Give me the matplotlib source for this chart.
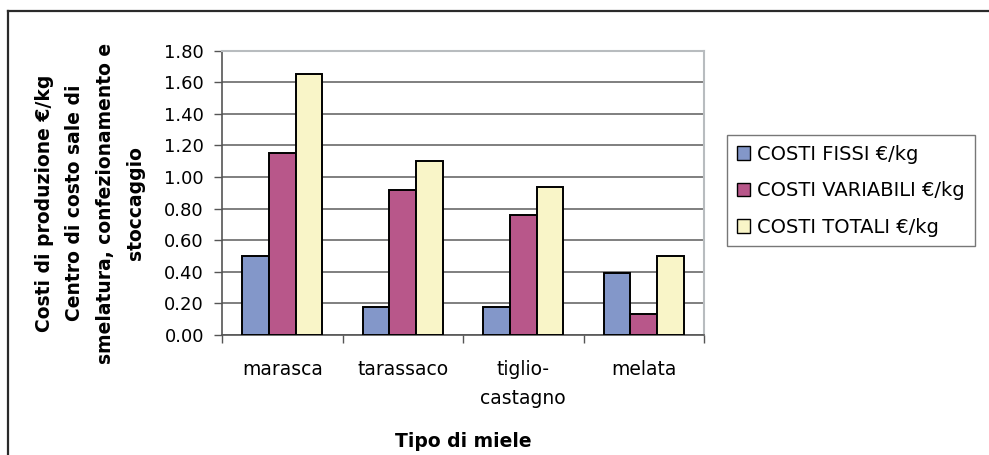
import matplotlib
matplotlib.use("Agg")
import matplotlib.pyplot as plt
import numpy as np
from matplotlib.lines import Line2D
from matplotlib.patches import Patch

plt.rcParams['font.family'] = ['DejaVu Sans']

categories = ["marasca", "tarassaco", "tiglio-\ncastagno", "melata"]
series_names = ["COSTI FISSI €/kg", "COSTI VARIABILI €/kg", "COSTI TOTALI €/kg"]
costi_fissi = [0.50, 0.18, 0.18, 0.39]
costi_variabili = [1.15, 0.92, 0.76, 0.13]
costi_totali = [1.65, 1.10, 0.94, 0.50]
yticks = [0.0, 0.2, 0.4, 0.6, 0.8, 1.0, 1.2, 1.4, 1.6, 1.8]

colors = ["#8397c9", "#b8578a", "#f9f5c8"]

W, H = 989, 455
fig = plt.figure(figsize=(W / 100, H / 100), dpi=100)
fig.patch.set_facecolor("white")

# chart area frame (top and left edges visible)
fig.add_artist(Line2D([8 / W, 8 / W], [0, 1 - 11 / H], color="#2a2a2a", lw=1.6))
fig.add_artist(Line2D([8 / W, 1], [1 - 11 / H, 1 - 11 / H], color="#2a2a2a", lw=1.6))

# plot area in pixels (from top-left)
px_l, px_r, px_t, px_b = 222, 704, 50.7, 335
ax = fig.add_axes([px_l / W, 1 - px_b / H, (px_r - px_l) / W, (px_b - px_t) / H])

x = np.arange(len(categories))
bw = 1 / 4.5
for i, (vals, c, name) in enumerate(zip([costi_fissi, costi_variabili, costi_totali], colors, series_names)):
    ax.bar(x + (i - 1) * bw, vals, width=bw, color=c, edgecolor="black", linewidth=1.4,
           label=name, zorder=3)

ax.set_xlim(-0.5, len(categories) - 0.5)
ax.set_ylim(0, 1.8)
ax.set_yticks(yticks)
ax.set_yticklabels([f"{v:.2f}" for v in yticks], fontsize=13)
ax.yaxis.grid(True, color="#6a6a6a", linewidth=1.2, zorder=0)
ax.set_axisbelow(True)

ax.set_xticks(x)
ax.set_xticklabels(categories, fontsize=13.5, linespacing=1.65)
ax.set_xticks(np.arange(len(categories) + 1) - 0.5, minor=True)
ax.tick_params(axis="x", which="major", length=0, pad=18)
ax.tick_params(axis="x", which="minor", length=6, width=1, color="#555555", direction="out")
ax.tick_params(axis="y", length=6, width=1, color="#555555", direction="out", pad=7)

for s in ["left", "bottom"]:
    ax.spines[s].set_color("#555555")
    ax.spines[s].set_linewidth(1.2)
for s in ["top", "right"]:
    ax.spines[s].set_color("#b8bcbf")
    ax.spines[s].set_linewidth(1.5)


def ax_coords(px_x, px_y):
    return ((px_x - px_l) / (px_r - px_l), (px_b - px_y) / (px_b - px_t))


ax.set_xlabel("Tipo di miele", fontsize=13.5, fontweight="bold")
ax.xaxis.set_label_coords(*ax_coords(463, 441))
ax.xaxis.label.set_verticalalignment("center")

ax.set_ylabel("Costi di produzione €/kg\nCentro di costo sale di\nsmelatura, confezionamento e\nstoccaggio",
              fontsize=13.5, fontweight="bold", linespacing=1.75)
ax.yaxis.set_label_coords(*ax_coords(90, 203))
ax.yaxis.label.set_verticalalignment("center")

handles = [Patch(facecolor=c, edgecolor="black", linewidth=1.0) for c in colors]
leg = fig.legend(handles, series_names, loc="upper left",
                 bbox_to_anchor=(727 / W, 1 - 135 / H), fontsize=14,
                 frameon=True, fancybox=False, edgecolor="#555555",
                 handlelength=0.7, handleheight=0.7, handletextpad=0.36,
                 labelspacing=0.9, borderpad=0.5, borderaxespad=0)
leg.get_frame().set_linewidth(1.0)

fig.savefig("out.png", dpi=100)
